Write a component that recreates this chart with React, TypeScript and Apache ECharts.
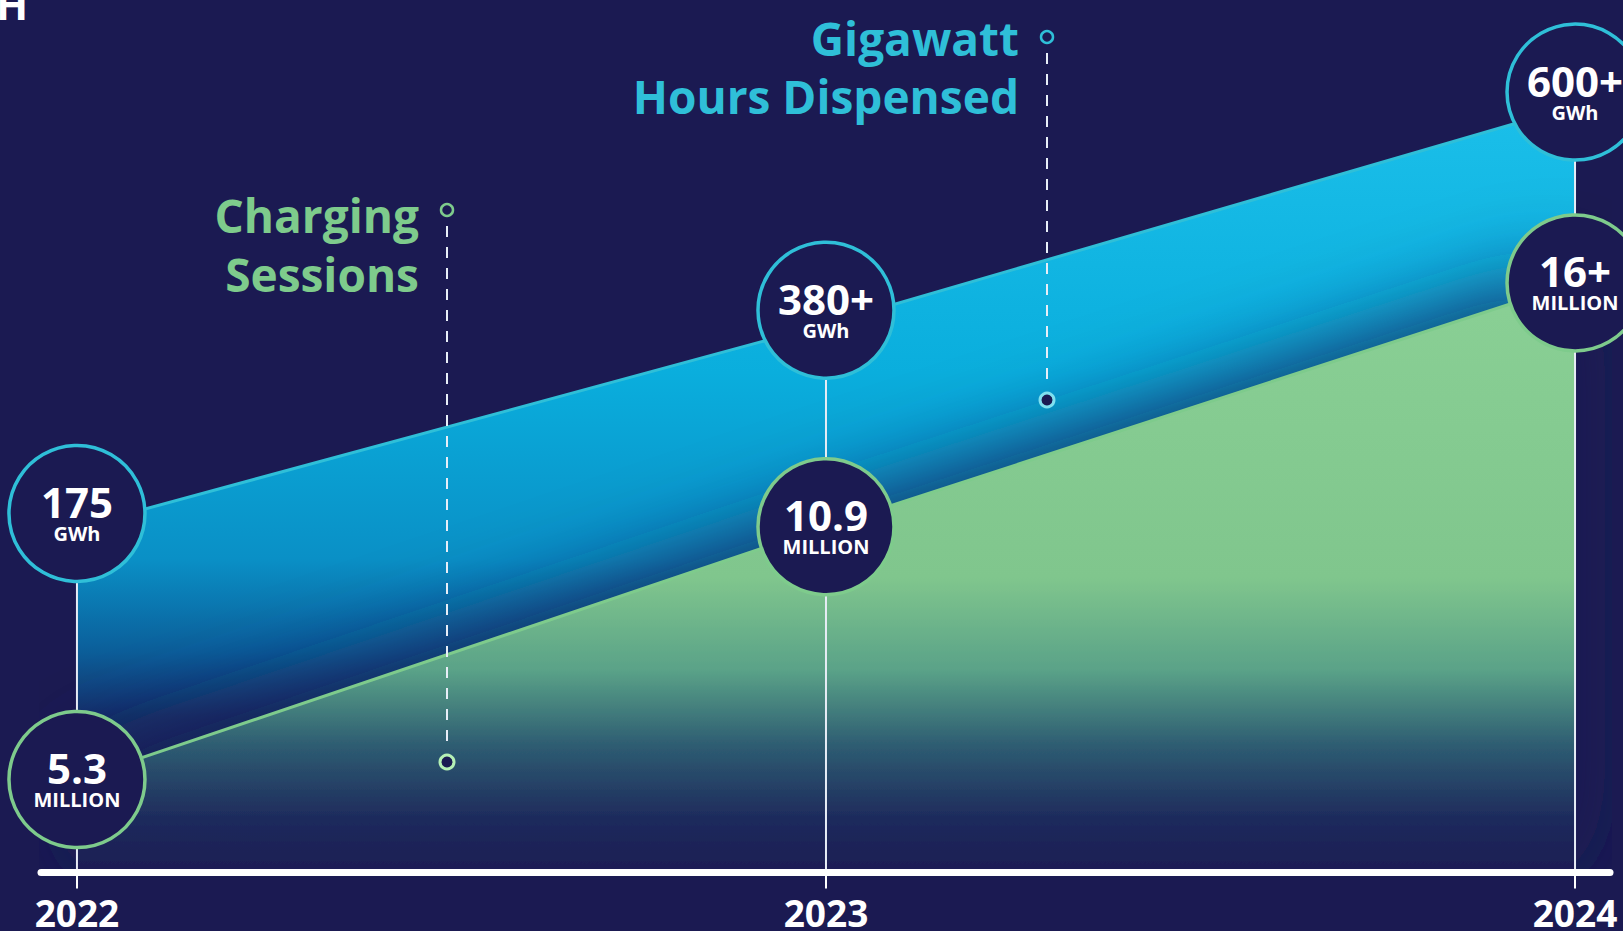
import React, { useEffect, useRef } from "react";
import * as echarts from "echarts";

// ---- data ----
const years = [2022, 2023, 2024];
const gwhValues = [175, 380, 600];
const gwhLabels = ["175", "380+", "600+"];
const gwhUnit = "GWh";
const sessionValues = [5.3, 10.9, 16.3];
const sessionLabels = ["5.3", "10.9", "16+"];
const sessionUnit = "MILLION";
const gwhTitle = ["Gigawatt", "Hours Dispensed"];
const sessionTitle = ["Charging", "Sessions"];

// ---- style ----
const BG = "#1b1a52";
const CYAN = "#2fbfd8";
const GREEN = "#7ecb8c";
const FONT = '"Open Sans", "Noto Sans", sans-serif';

const blueData = years.map((y, i) => [y, gwhValues[i]]);
const greenData = years.map((y, i) => [y, sessionValues[i]]);

const globalGrad = (stops: [number, string][]) => ({
  type: "linear",
  x: 0,
  y: 0,
  x2: 0,
  y2: 931,
  global: true,
  colorStops: stops.map(([offset, color]) => ({ offset, color })),
});

const circleLabel = (labels: string[], unit: string) => ({
  show: true,
  position: "inside",
  formatter: (p: any) => `{v|${labels[p.dataIndex]}}\n{u|${unit}}`,
  rich: {
    v: { fontSize: 42, fontWeight: "bold", color: "#ffffff", fontFamily: FONT, lineHeight: 40, align: "center" },
    u: { fontSize: 20, fontWeight: "bold", color: "#ffffff", fontFamily: FONT, lineHeight: 24, align: "center" },
  },
});

const titleText = (text: string, x: number, y: number, color: string) => ({
  type: "text",
  x,
  y,
  z: 100,
  silent: true,
  style: {
    text,
    fill: color,
    font: `bold 46px ${FONT}`,
    align: "right",
    verticalAlign: "middle",
  },
});

const dot = (cx: number, cy: number, r: number, stroke: string, lw: number) => ({
  type: "circle",
  z: 101,
  silent: true,
  shape: { cx, cy, r },
  style: { fill: BG, stroke, lineWidth: lw },
});

const dash = (x: number, y1: number, y2: number) => ({
  type: "line",
  z: 100,
  silent: true,
  shape: { x1: x, y1, x2: x, y2 },
  style: { stroke: "#e8eef8", lineWidth: 2, lineDash: [11, 10] },
});

const option: any = {
  backgroundColor: BG,
  animation: false,
  grid: { left: 41, right: 13, top: 0, bottom: 58 },
  xAxis: {
    type: "value",
    z: 10,
    min: 2021.952,
    max: 2024.0467,
    axisLine: { show: true, onZero: false, lineStyle: { color: "#ffffff", width: 7, cap: "round" } },
    axisTick: { show: true, customValues: years, length: 16, lineStyle: { color: "#ffffff", width: 2 } },
    axisLabel: {
      show: true,
      customValues: years,
      formatter: (v: number) => String(Math.round(v)),
      color: "#ffffff",
      fontSize: 37,
      fontWeight: "bold",
      fontFamily: FONT,
      margin: 40,
      verticalAlign: "middle",
    },
    splitLine: { show: false },
  },
  yAxis: [
    { type: "value", min: -173, max: 707, show: false },
    { type: "value", min: 3.242, max: 22.565, show: false },
  ],
  series: [
    {
      type: "line",
      yAxisIndex: 0,
      data: blueData,
      symbol: "none",
      z: 1,
      lineStyle: { color: CYAN, width: 3 },
      areaStyle: {
        origin: "start",
        opacity: 1,
        color: globalGrad([
          [0.1, "#1cc0ea"],
          [0.4, "#0aaedd"],
          [0.6, "#0a90c6"],
          [0.7, "#0b5e9a"],
          [0.77, "#15306a"],
          [0.86, BG],
        ]),
      },
    },
    {
      type: "line",
      yAxisIndex: 1,
      data: greenData,
      symbol: "none",
      z: 2,
      lineStyle: { color: GREEN, width: 3 },
      areaStyle: {
        origin: "start",
        opacity: 1,
        shadowColor: "rgba(24,26,84,0.9)",
        shadowBlur: 90,
        shadowOffsetY: -10,
        color: globalGrad([
          [0.3, "#8ad095"],
          [0.62, "#80c68d"],
          [0.72, "#5aa288"],
          [0.8, "#2e5d72"],
          [0.88, "#1e2a5c"],
          [0.95, BG],
        ]),
      },
    },
    {
      type: "custom",
      yAxisIndex: 0,
      data: blueData,
      z: 3,
      silent: true,
      renderItem: (params: any, api: any) => {
        const p = api.coord([api.value(0), api.value(1)]);
        const bottom = params.coordSys.y + params.coordSys.height;
        return {
          type: "line",
          shape: { x1: p[0], y1: p[1], x2: p[0], y2: bottom },
          style: { stroke: "#e6ecf5", lineWidth: 2 },
        };
      },
    },
    {
      type: "scatter",
      yAxisIndex: 0,
      data: blueData,
      z: 4,
      clip: false,
      symbol: "circle",
      symbolSize: 136,
      symbolOffset: [0, -14],
      itemStyle: { color: BG, borderColor: CYAN, borderWidth: 3.5, opacity: 1 },
      label: circleLabel(gwhLabels, gwhUnit),
    },
    {
      type: "scatter",
      yAxisIndex: 1,
      data: greenData,
      z: 4,
      clip: false,
      symbol: "circle",
      symbolSize: 136,
      itemStyle: { color: BG, borderColor: GREEN, borderWidth: 3.5, opacity: 1 },
      label: circleLabel(sessionLabels, sessionUnit),
    },
  ],
  graphic: [
    {
      type: "text",
      x: -4,
      y: 3,
      z: 100,
      silent: true,
      style: { text: "H", fill: "#ffffff", font: `bold 42px ${FONT}`, align: "left", verticalAlign: "middle" },
    },
    titleText(gwhTitle[0], 1019, 38, CYAN),
    titleText(gwhTitle[1], 1019, 96, CYAN),
    titleText(sessionTitle[0], 419, 215, GREEN),
    titleText(sessionTitle[1], 419, 274, GREEN),
    dash(1047, 53, 388),
    dot(1047, 37, 6, CYAN, 2.5),
    dot(1047, 400, 7, "#7fe0ef", 3),
    dash(447, 226, 750),
    dot(447, 210, 6, GREEN, 2.5),
    dot(447, 762, 7, "#b5f0b5", 3),
  ],
};

export default function App() {
  const ref = useRef<HTMLDivElement>(null);
  useEffect(() => {
    const chart = echarts.init(ref.current!, null, { renderer: "svg" });
    chart.setOption(option);
    return () => chart.dispose();
  }, []);
  return (
    <div
      ref={ref}
      style={{ position: "fixed", left: 0, top: 0, width: 1623, height: 931 }}
    />
  );
}
